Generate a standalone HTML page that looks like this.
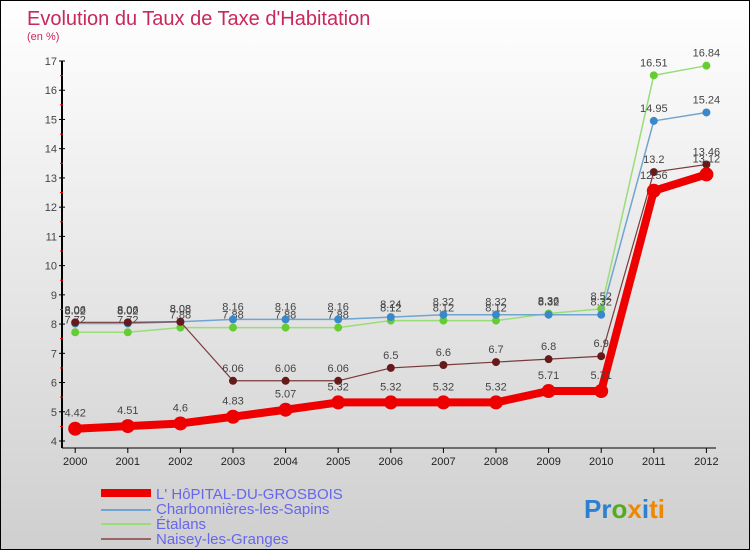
<!DOCTYPE html>
<html><head><meta charset="utf-8"><style>
body{margin:0}
#c{width:750px;height:550px;position:relative;overflow:hidden;box-sizing:border-box;border:1px solid #000;background:linear-gradient(#ffffff,#cfcfcf);font-family:"Liberation Sans",sans-serif}
</style></head><body>
<div id="c">
<svg id="s" width="750" height="550" style="position:absolute;left:0;top:0">
<text x="26" y="24" font-size="20" fill="#c8285a">Evolution du Taux de Taxe d'Habitation</text>
<text x="26" y="39" font-size="11" fill="#c8285a">(en %)</text>
<g id="axes"></g><g id="series"></g>
<g>
<rect x="100" y="488" width="50" height="8" fill="#ee0000"/>
<text x="155" y="498" font-size="15" fill="#6666ee">L' HôPITAL-DU-GROSBOIS</text>
<rect x="100" y="508" width="50" height="2" fill="#6fa5d0"/>
<text x="155" y="513" font-size="15" fill="#6666ee">Charbonnières-les-Sapins</text>
<rect x="100" y="522" width="50" height="2" fill="#99dd77"/>
<text x="155" y="528" font-size="15" fill="#6666ee">Étalans</text>
<rect x="100" y="537" width="50" height="2" fill="#996666"/>
<text x="155" y="543" font-size="15" fill="#6666ee">Naisey-les-Granges</text>
</g>
<text x="583" y="517" font-size="26" font-weight="bold"><tspan fill="#2d7fd0">Pr</tspan><tspan fill="#55aa22">o</tspan><tspan fill="#ee8800">x</tspan><tspan fill="#2d7fd0">i</tspan><tspan fill="#ee8800">ti</tspan></text>
</svg>
</div>
<script>
const years=[2000,2001,2002,2003,2004,2005,2006,2007,2008,2009,2010,2011,2012];
const hopital=[4.42,4.51,4.6,4.83,5.07,5.32,5.32,5.32,5.32,5.71,5.71,12.56,13.12];
const charbonnieres=[8.02,8.02,8.08,8.16,8.16,8.16,8.24,8.32,8.32,8.32,8.32,14.95,15.24];
const etalans=[7.72,7.72,7.88,7.88,7.88,7.88,8.12,8.12,8.12,8.36,8.52,16.51,16.84];
const naisey=[8.06,8.06,8.08,6.06,6.06,6.06,6.5,6.6,6.7,6.8,6.9,13.2,13.46];
const yTicks=[4,5,6,7,8,9,10,11,12,13,14,15,16,17];
const NS="http://www.w3.org/2000/svg";
const xS=i=>74.2+i*52.6;
const yS=v=>440-(v-4)*29.23;
function mk(tag,at,parent){const e=document.createElementNS(NS,tag);for(const k in at)e.setAttribute(k,at[k]);parent.appendChild(e);return e;}
const ax=document.getElementById('axes');
let a=mk('line',{x1:61,y1:yS(17),x2:61,y2:447,stroke:'#000','stroke-width':2},ax);


a=mk('line',{x1:61,y1:447,x2:715,y2:447,stroke:'#000','stroke-width':1},ax);


yTicks.forEach(t=>{
 mk('line',{x1:58,y1:yS(t),x2:64,y2:yS(t),stroke:'#000'},ax);
 if(t<17){const m=mk('line',{x1:59,y1:yS(t+0.5),x2:62,y2:yS(t+0.5),stroke:'#f00'},ax);}
 const tx=mk('text',{x:56,y:yS(t)+4,'font-size':11,fill:'#444','text-anchor':'end'},ax);
 tx.textContent=t;
 
 
});
years.forEach((y,i)=>{
 mk('line',{x1:xS(i),y1:447,x2:xS(i),y2:452,stroke:'#000'},ax);
 const tx=mk('text',{x:xS(i),y:464,'font-size':11,fill:'#222','text-anchor':'middle'},ax);
 tx.textContent=y;
 
 
});
const sg=document.getElementById('series');
function series(data,color,dot,w,r,name){
 const g=mk('g',{},sg);
 
 
 const p=mk('polyline',{points:data.map((v,i)=>xS(i)+','+yS(v)).join(' '),fill:'none',stroke:color,'stroke-width':w,'stroke-linejoin':'round'},g);
 
 
 data.forEach((v,i)=>{
  const c=mk('circle',{cx:xS(i),cy:yS(v),r:r,fill:dot},g);
  
  
  const t=mk('text',{x:xS(i),y:yS(v)-r-5,'font-size':11,fill:'#444','text-anchor':'middle'},g);
  t.textContent=v;
  
  
 });
}
series(etalans,'#99dd77','#66cc33',1.5,4,'etalans');
series(charbonnieres,'#6fa5d0','#3a88cc',1.5,4,'charbonnieres');
series(naisey,'#7a3a3a','#661a1a',1.2,4,'naisey');
series(hopital,'#ee0000','#ee0000',8,7,'hopital');
</script>
</body></html>
